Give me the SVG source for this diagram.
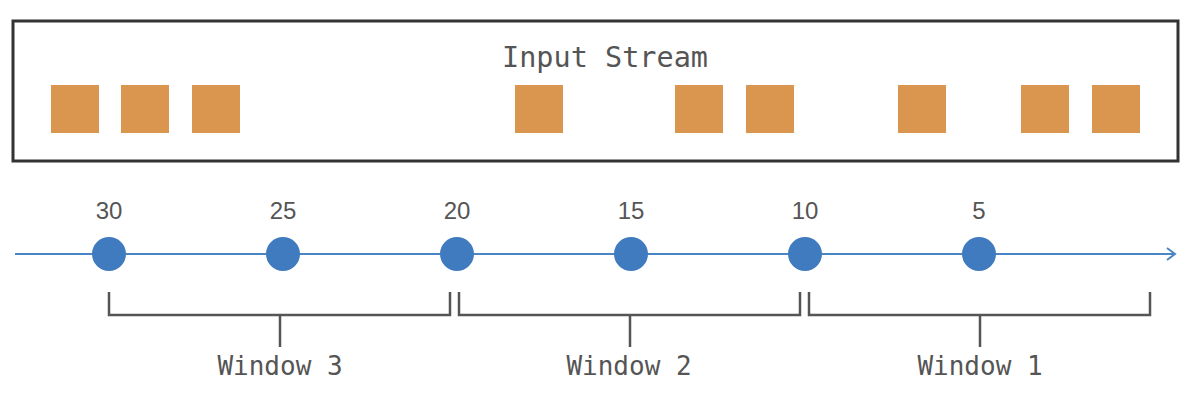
<svg xmlns="http://www.w3.org/2000/svg" width="1188" height="402" viewBox="0 0 1188 402">
<style>
.ev{fill:#DA954F}
.tick{fill:#3F7BBE}
.num{font-family:"Liberation Sans",Arial,sans-serif;font-size:24px;fill:#555;text-anchor:middle}
.mono{font-family:"DejaVu Sans Mono",monospace;fill:#555;text-anchor:middle}
.br{fill:none;stroke:#555;stroke-width:2.5}
</style>
<defs>
<marker id="arr" markerWidth="12" markerHeight="14" refX="10" refY="7" orient="auto" markerUnits="userSpaceOnUse">
<path d="M2,1 L10,7 L2,13" fill="none" stroke="#4A86C5" stroke-width="2"/>
</marker>
</defs>
<rect width="1188" height="402" fill="#fff"/>
<g id="input-stream">
<rect x="13" y="21" width="1165" height="140" fill="#fff" stroke="#333" stroke-width="3"/>
<text class="mono" x="605" y="67" font-size="28.5">Input Stream</text>
<rect class="ev" x="51" y="85" width="48" height="48"/>
<rect class="ev" x="121" y="85" width="48" height="48"/>
<rect class="ev" x="192" y="85" width="48" height="48"/>
<rect class="ev" x="515" y="85" width="48" height="48"/>
<rect class="ev" x="675" y="85" width="48" height="48"/>
<rect class="ev" x="746" y="85" width="48" height="48"/>
<rect class="ev" x="898" y="85" width="48" height="48"/>
<rect class="ev" x="1021" y="85" width="48" height="48"/>
<rect class="ev" x="1092" y="85" width="48" height="48"/>
</g>
<g id="connectors">
<line x1="15" y1="254" x2="1175" y2="254" stroke="#4A86C5" stroke-width="2" marker-end="url(#arr)"/>
</g>
<g id="t30"><circle class="tick" cx="109" cy="254" r="17"/><text class="num" x="109" y="219">30</text></g>
<g id="t25"><circle class="tick" cx="283" cy="254" r="17"/><text class="num" x="283" y="219">25</text></g>
<g id="t20"><circle class="tick" cx="457" cy="254" r="17"/><text class="num" x="457" y="219">20</text></g>
<g id="t15"><circle class="tick" cx="631" cy="254" r="17"/><text class="num" x="631" y="219">15</text></g>
<g id="t10"><circle class="tick" cx="805" cy="254" r="17"/><text class="num" x="805" y="219">10</text></g>
<g id="t5"><circle class="tick" cx="979" cy="254" r="17"/><text class="num" x="979" y="219">5</text></g>
<g id="window3">
<path class="br" d="M109,292 V315 H450 V292 M280,315 V347"/>
<text class="mono" x="280" y="375" font-size="26">Window 3</text>
</g>
<g id="window2">
<path class="br" d="M459,292 V315 H800 V292 M630,315 V347"/>
<text class="mono" x="629" y="375" font-size="26">Window 2</text>
</g>
<g id="window1">
<path class="br" d="M809,292 V315 H1150 V292 M980,315 V347"/>
<text class="mono" x="980" y="375" font-size="26">Window 1</text>
</g>
</svg>
